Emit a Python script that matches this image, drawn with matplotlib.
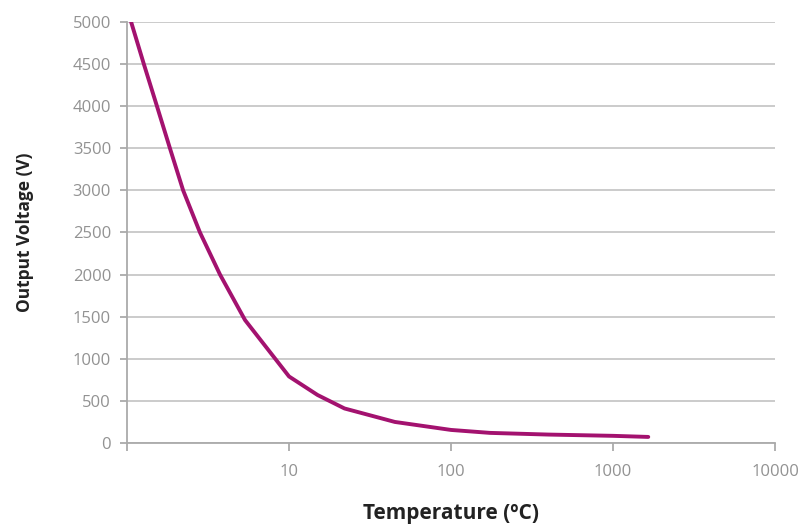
import matplotlib
matplotlib.use("Agg")
import matplotlib.pyplot as plt
from matplotlib.ticker import FixedLocator, FixedFormatter, NullLocator

temperature = [1.06, 1.27, 1.53, 1.84, 2.22, 2.82, 3.75, 5.35, 10, 15, 22, 45, 100, 174, 400, 1000, 1650]
voltage = [5000, 4500, 4000, 3500, 3000, 2500, 2000, 1460, 790, 570, 410, 250, 155, 120, 100, 85, 72]

yticks = [0, 500, 1000, 1500, 2000, 2500, 3000, 3500, 4000, 4500, 5000]
xticks = [1, 10, 100, 1000, 10000]
xticklabels = ["", "10", "100", "1000", "10000"]

plt.rcParams['font.family'] = ['Open Sans', 'DejaVu Sans']
fig = plt.figure(figsize=(7.99, 5.24), dpi=100)
ax = fig.add_axes([0.159, 0.1546, 0.811, 0.8034])

grey = "#aaaaaa"
ax.plot(temperature, voltage, color="#a3126f", lw=2.8, solid_capstyle="round",
        solid_joinstyle="round", zorder=3)
ax.set_xscale("log")
ax.set_xlim(1, 10000)
ax.set_ylim(0, 5000)
ax.xaxis.set_major_locator(FixedLocator(xticks))
ax.xaxis.set_major_formatter(FixedFormatter(xticklabels))
ax.xaxis.set_minor_locator(NullLocator())
ax.set_yticks(yticks)
ax.set_yticklabels([str(v) for v in yticks])
ax.yaxis.grid(True, color="#bdbdbd", lw=1.1)
ax.set_axisbelow(True)
for s in ["top", "right"]:
    ax.spines[s].set_visible(False)
for s in ["left", "bottom"]:
    ax.spines[s].set_color(grey)
    ax.spines[s].set_linewidth(1.3)
ax.tick_params(axis="x", colors=grey, labelcolor="#929292", length=6, width=1.3, labelsize=12, pad=9)
ax.tick_params(axis="y", colors=grey, labelcolor="#929292", length=5, width=1.3, labelsize=12, pad=6.5)
ax.set_xlabel("Temperature (ºC)", fontsize=15, fontweight="bold", color="#222222", labelpad=17)
ax.set_ylabel("Output Voltage (V)", fontsize=12.5, fontweight="bold", color="#222222", labelpad=28)
fig.savefig("out.png", dpi=100)
